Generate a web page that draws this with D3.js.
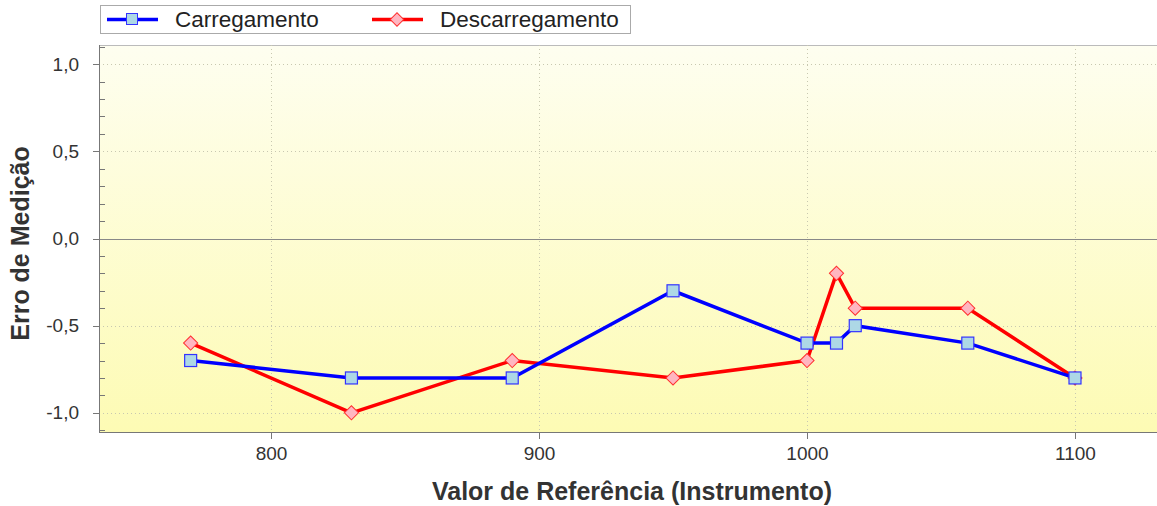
<!DOCTYPE html>
<head>
<meta charset="utf-8">
<title>Erro de Medição</title>
<script src="https://d3js.org/d3.v7.min.js"></script>
<style>
    body { margin: 0; background: #fff; }
    .axis text { fill: #333; font-family: "Liberation Sans", Arial; font-size: 19px; }
    .axis path, .axis line { stroke: #777; stroke-width: 1; shape-rendering: crispEdges; }
    .grid line { stroke: #c8c8b0; stroke-dasharray: 1,3; shape-rendering: crispEdges; }
    .title { font-family: "Liberation Sans", Arial; font-weight: bold; font-size: 25px; fill: #333; }
    .legend text { font-family: "Liberation Sans", Arial; font-size: 22.5px; fill: #222; }
</style>
</head>
<body>
<div id="container"></div>
<script>
// values
var refValues = [770, 830, 890, 950, 1000, 1011, 1018, 1060, 1100];
var carregamento = [-0.7, -0.8, -0.8, -0.3, -0.6, -0.6, -0.5, -0.6, -0.8];
var descarregamento = [-0.6, -1.0, -0.7, -0.8, -0.7, -0.2, -0.4, -0.4, -0.8];
var xTicks = [800, 900, 1000, 1100];
var yTicks = [-1.0, -0.5, 0.0, 0.5, 1.0];
var seriesNames = ["Carregamento", "Descarregamento"];

var width = 1157, height = 506;
var plot = {left: 99, right: 1157, top: 45, bottom: 432};

var svg = d3.select("#container").append("svg")
    .attr("width", width)
    .attr("height", height);

var xScale = d3.scaleLinear().domain([735.8, 1130.6]).range([plot.left, plot.right]);
var yScale = d3.scaleLinear().domain([-1.11, 1.11]).range([plot.bottom, plot.top]);

// background gradient
var defs = svg.append("defs");
var grad = defs.append("linearGradient").attr("id", "bg")
    .attr("x1", 0).attr("y1", 0).attr("x2", 0).attr("y2", 1);
grad.append("stop").attr("offset", "0%").attr("stop-color", "#fefef0");
grad.append("stop").attr("offset", "100%").attr("stop-color", "#fdfbb4");

svg.append("rect")
    .attr("x", plot.left).attr("y", plot.top)
    .attr("width", plot.right - plot.left).attr("height", plot.bottom - plot.top)
    .attr("fill", "url(#bg)");

// top border
svg.append("line")
    .attr("x1", plot.left).attr("x2", plot.right)
    .attr("y1", plot.top + 0.5).attr("y2", plot.top + 0.5)
    .attr("stroke", "#bbb");

// grid
svg.append("g").attr("class", "grid")
    .selectAll("line.v").data(xTicks).enter().append("line")
    .attr("x1", d => Math.round(xScale(d)) + 0.5).attr("x2", d => Math.round(xScale(d)) + 0.5)
    .attr("y1", plot.top).attr("y2", plot.bottom);
svg.append("g").attr("class", "grid")
    .selectAll("line.h").data(yTicks.filter(d => d !== 0)).enter().append("line")
    .attr("x1", plot.left).attr("x2", plot.right)
    .attr("y1", d => Math.round(yScale(d)) + 0.5).attr("y2", d => Math.round(yScale(d)) + 0.5);

// zero line
svg.append("line")
    .attr("x1", plot.left).attr("x2", plot.right)
    .attr("y1", Math.round(yScale(0)) + 0.5).attr("y2", Math.round(yScale(0)) + 0.5)
    .attr("stroke", "#888").attr("stroke-width", 1);

// axes
var fmt = d => d3.format(".1f")(d).replace(".", ",").replace("−", "-");
var yAxis = d3.axisLeft(yScale).tickValues(yTicks).tickFormat(fmt).tickSize(6).tickPadding(14);
svg.append("g").attr("class", "axis")
    .attr("transform", "translate(" + plot.left + ",0)")
    .call(yAxis)
    .call(g => g.select(".domain").attr("d", "M0.5," + plot.top + "V" + plot.bottom));

// minor y ticks
var minor = d3.range(-11, 12).map(d => d / 10).filter(d => Math.abs(Math.round(d * 10) % 5) !== 0);
svg.append("g").selectAll("line").data(minor).enter().append("line")
    .attr("x1", plot.left).attr("x2", plot.left + 6)
    .attr("y1", d => Math.round(yScale(d)) + 0.5).attr("y2", d => Math.round(yScale(d)) + 0.5)
    .attr("stroke", "#777").style("shape-rendering", "crispEdges");

var xAxis = d3.axisBottom(xScale).tickValues(xTicks).tickFormat(d3.format("d")).tickSize(7).tickPadding(8);
svg.append("g").attr("class", "axis")
    .attr("transform", "translate(0," + plot.bottom + ")")
    .call(xAxis)
    .call(g => g.select(".domain").attr("d", "M" + plot.left + ",0.5H" + plot.right));

// axis titles
svg.append("text").attr("class", "title")
    .attr("x", 632).attr("y", 500)
    .attr("text-anchor", "middle")
    .text("Valor de Referência (Instrumento)");
svg.append("text").attr("class", "title")
    .attr("transform", "translate(29," + (yScale(0) + 5) + ") rotate(-90)")
    .attr("text-anchor", "middle")
    .text("Erro de Medição");

// lines
var lineGen = function(vals) {
    return d3.line()
        .x((d, i) => xScale(refValues[i]))
        .y(d => yScale(d))(vals);
};

svg.append("path").attr("d", lineGen(descarregamento))
    .attr("fill", "none").attr("stroke", "#ff0000").attr("stroke-width", 3.5);
svg.selectAll(".dia").data(descarregamento).enter().append("path")
    .attr("class", "dia")
    .attr("d", d3.symbol().type(d3.symbolSquare).size(100))
    .attr("transform", (d, i) => "translate(" + xScale(refValues[i]) + "," + yScale(d) + ") rotate(45)")
    .attr("fill", "#ffb6c1").attr("stroke", "#ff3030").attr("stroke-width", 1);

svg.append("path").attr("d", lineGen(carregamento))
    .attr("fill", "none").attr("stroke", "#0000ff").attr("stroke-width", 3.5);
svg.selectAll(".sq").data(carregamento).enter().append("rect")
    .attr("class", "sq")
    .attr("x", (d, i) => xScale(refValues[i]) - 6)
    .attr("y", d => yScale(d) - 6)
    .attr("width", 12).attr("height", 12)
    .attr("fill", "#add8e6").attr("stroke", "#3333ff").attr("stroke-width", 1.2);

// legend
var legend = svg.append("g").attr("class", "legend");
legend.append("rect").attr("x", 100.5).attr("y", 5.5).attr("width", 530).attr("height", 28)
    .attr("fill", "#fff").attr("stroke", "#aaa");
legend.append("line").attr("x1", 107).attr("x2", 158).attr("y1", 19.5).attr("y2", 19.5)
    .attr("stroke", "#0000ff").attr("stroke-width", 3.5);
legend.append("rect").attr("x", 126.5).attr("y", 13.5).attr("width", 11).attr("height", 11)
    .attr("fill", "#add8e6").attr("stroke", "#3333ff");
legend.append("text").attr("x", 175).attr("y", 27).text(seriesNames[0]);
legend.append("line").attr("x1", 372).attr("x2", 423).attr("y1", 19.5).attr("y2", 19.5)
    .attr("stroke", "#ff0000").attr("stroke-width", 3.5);
legend.append("path").attr("d", d3.symbol().type(d3.symbolSquare).size(90))
    .attr("transform", "translate(397,19.5) rotate(45)")
    .attr("fill", "#ffb6c1").attr("stroke", "#ff3030");
legend.append("text").attr("x", 440).attr("y", 27).text(seriesNames[1]);
</script>
</body>
